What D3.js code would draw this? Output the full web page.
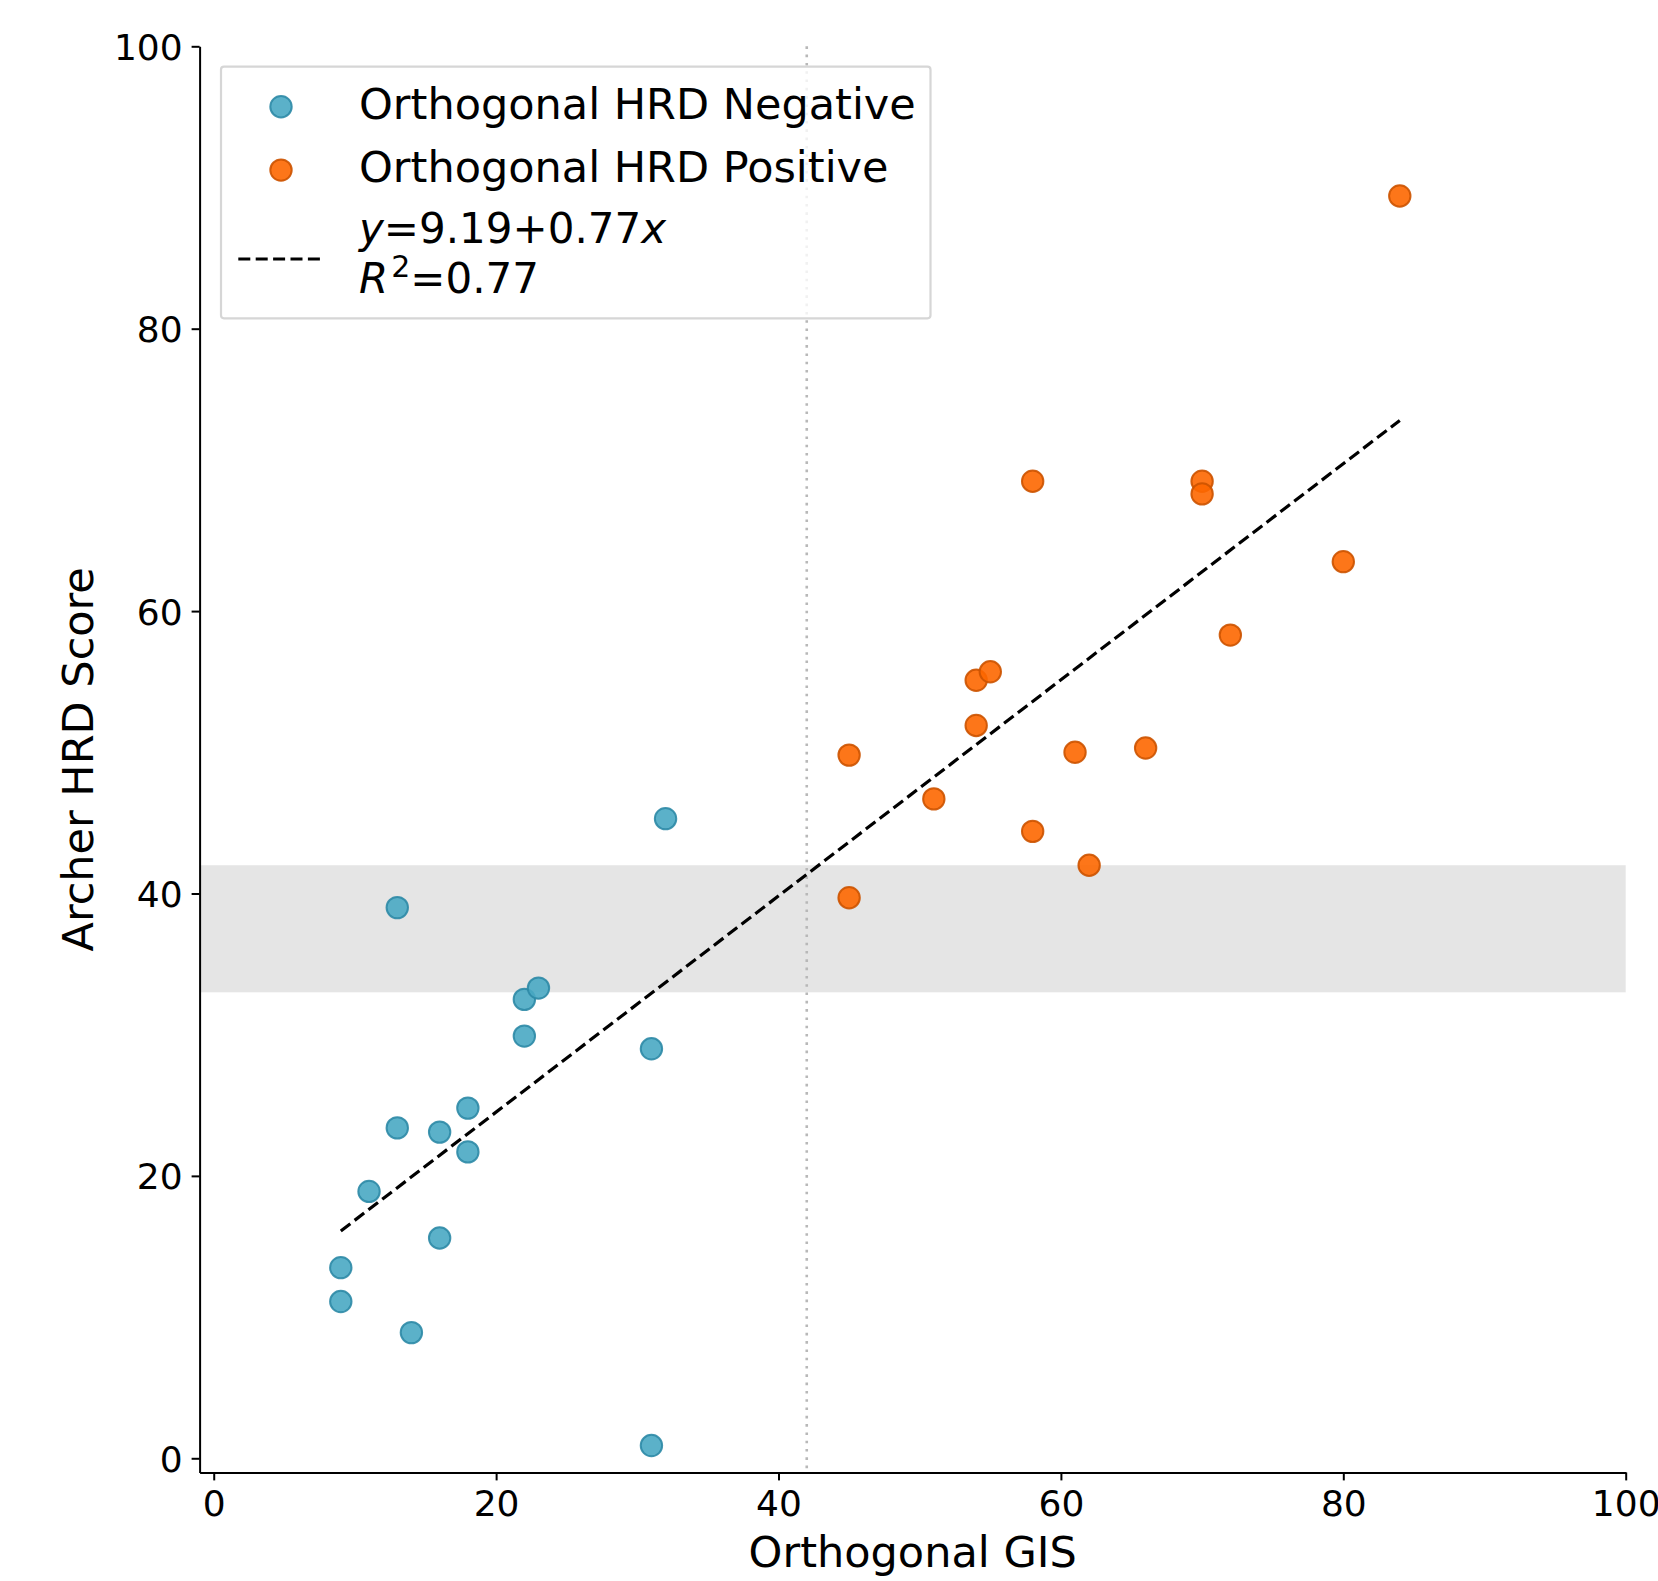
<!DOCTYPE html>
<html>
<head>
    <title>Archer HRD vs Orthogonal GIS</title>
    <script src="https://d3js.org/d3.v7.min.js"></script>
    <style>
        body { margin: 0; background: #fff; }
        text { font-family: "DejaVu Sans", sans-serif; fill: #000; }
        .axis text { font-size: 36px; }
        .axis path, .axis line { stroke: #000; stroke-width: 2; }
    </style>
</head>
<body>
<div id="chart"></div>
<script>
// Orthogonal HRD negative samples
const negGIS   = [9, 9, 11, 13, 13, 14, 16, 16, 18, 18, 22, 22, 23, 31, 31, 32];
const negScore = [13.5, 11.1, 18.9, 39.0, 23.4, 8.9, 23.1, 15.6, 24.8, 21.7, 32.5, 29.9, 33.3, 29.0, 0.9, 45.3];

// Orthogonal HRD positive samples
const posGIS   = [45, 45, 51, 54, 54, 55, 58, 58, 61, 62, 66, 70, 70, 72, 80, 84];
const posScore = [49.8, 39.7, 46.7, 55.1, 51.9, 55.7, 69.2, 44.4, 50.0, 42.0, 50.3, 69.2, 68.3, 58.3, 63.5, 89.4];

// fitted line as drawn (ends), legend text, shaded band and GIS threshold
const fitLineGIS   = [9, 84];
const fitLineScore = [16.1, 73.5];
const fitIntercept = 9.19, fitSlope = 0.77, fitR2 = 0.77;
const bandRange = [33, 42];
const gisCutoff = 42;
const tickValues = [0, 20, 40, 60, 80, 100];
const seriesNames = ["Orthogonal HRD Negative", "Orthogonal HRD Positive"];

const W = 1658, H = 1581;
const plotLeft = 199.6, plotRight = 1625.7, plotTop = 46.3, plotBottom = 1472.4;

const svg = d3.select("#chart").append("svg")
    .attr("width", W)
    .attr("height", H);

svg.append("rect").attr("width", W).attr("height", H).attr("fill", "#fff");

const x = d3.scaleLinear().domain([-1, 100]).range([plotLeft, plotRight]);
const y = d3.scaleLinear().domain([-1, 100]).range([plotBottom, plotTop]);

// grey band
svg.append("rect")
    .attr("x", x(-1))
    .attr("width", x(100) - x(-1))
    .attr("y", y(bandRange[1]))
    .attr("height", y(bandRange[0]) - y(bandRange[1]))
    .attr("fill", "#e5e5e5");

// dotted cutoff line
svg.append("line")
    .attr("x1", x(gisCutoff)).attr("x2", x(gisCutoff))
    .attr("y1", y(100)).attr("y2", y(-1))
    .attr("stroke", "#b8b8b8")
    .attr("stroke-width", 2.6)
    .attr("stroke-dasharray", "2.6,5.7");

// points
const negData = negGIS.map((g, i) => ({gis: g, score: negScore[i]}));
const posData = posGIS.map((g, i) => ({gis: g, score: posScore[i]}));

const styles = [
    {fill: "#49a8c3", stroke: "#2e8aa6"},
    {fill: "#fd6700", stroke: "#cc5300"}
];

[negData, posData].forEach((data, k) => {
    svg.append("g").selectAll("circle")
        .data(data)
        .enter().append("circle")
        .attr("cx", d => x(d.gis))
        .attr("cy", d => y(d.score))
        .attr("r", 10.7)
        .attr("fill", styles[k].fill)
        .attr("fill-opacity", 0.9)
        .attr("stroke", styles[k].stroke)
        .attr("stroke-opacity", 0.9)
        .attr("stroke-width", 2);
});

// regression line
const fitData = fitLineGIS.map((g, i) => [g, fitLineScore[i]]);
svg.append("path")
    .datum(fitData)
    .attr("d", d3.line().x(d => x(d[0])).y(d => y(d[1])))
    .attr("fill", "none")
    .attr("stroke", "#000")
    .attr("stroke-width", 3.2)
    .attr("stroke-dasharray", "12,5.4");

// axes
svg.append("g")
    .attr("class", "axis")
    .attr("transform", `translate(0,${plotBottom})`)
    .call(d3.axisBottom(x).tickValues(tickValues).tickSize(8).tickSizeOuter(0).tickPadding(10))
    .selectAll("text").attr("font-size", 36);

svg.append("g")
    .attr("class", "axis")
    .attr("transform", `translate(${plotLeft},0)`)
    .call(d3.axisLeft(y).tickValues(tickValues).tickSize(8).tickSizeOuter(0).tickPadding(9))
    .selectAll("text").attr("font-size", 36).attr("dy", "0.36em");

svg.selectAll(".axis .domain").attr("stroke-width", 2.2);

// axis labels
svg.append("text")
    .attr("x", (plotLeft + plotRight) / 2)
    .attr("y", 1567)
    .attr("text-anchor", "middle")
    .style("font-size", "43px")
    .text("Orthogonal GIS");

svg.append("text")
    .attr("transform", `translate(93,${(plotTop + plotBottom) / 2}) rotate(-90)`)
    .attr("text-anchor", "middle")
    .style("font-size", "43px")
    .text("Archer HRD Score");

// legend
const legend = svg.append("g");
legend.append("rect")
    .attr("x", 221).attr("y", 66.7)
    .attr("width", 930.5 - 221).attr("height", 318.3 - 66.7)
    .attr("rx", 3)
    .attr("fill", "#fff").attr("fill-opacity", 0.8)
    .attr("stroke", "#d6d6d6").attr("stroke-width", 2.2);

seriesNames.forEach((name, k) => {
    const cy = 106.7 + k * 63.4;
    legend.append("circle")
        .attr("cx", 281).attr("cy", cy).attr("r", 10.7)
        .attr("fill", styles[k].fill).attr("fill-opacity", 0.9)
        .attr("stroke", styles[k].stroke).attr("stroke-opacity", 0.9)
        .attr("stroke-width", 2);
    legend.append("text")
        .attr("x", 359).attr("y", cy + 12)
        .style("font-size", "43px")
        .text(name);
});

legend.append("line")
    .attr("x1", 238.3).attr("x2", 325)
    .attr("y1", 259).attr("y2", 259)
    .attr("stroke", "#000")
    .attr("stroke-width", 3.2)
    .attr("stroke-dasharray", "12,5.4");

const eq = legend.append("text")
    .attr("x", 359).attr("y", 243.3)
    .style("font-size", "42px");
eq.append("tspan").attr("font-style", "italic").text("y");
eq.append("tspan").text(`=${fitIntercept.toFixed(2)}+${fitSlope.toFixed(2)}`);
eq.append("tspan").attr("font-style", "italic").text("x");

const r2 = legend.append("text")
    .attr("x", 359).attr("y", 293.3)
    .style("font-size", "42px");
r2.append("tspan").attr("font-style", "italic").text("R");
r2.append("tspan").attr("dy", -16).attr("dx", 3).style("font-size", "30px").text("2");
r2.append("tspan").attr("dy", 16).text(`=${fitR2.toFixed(2)}`);
</script>
</body>
</html>
